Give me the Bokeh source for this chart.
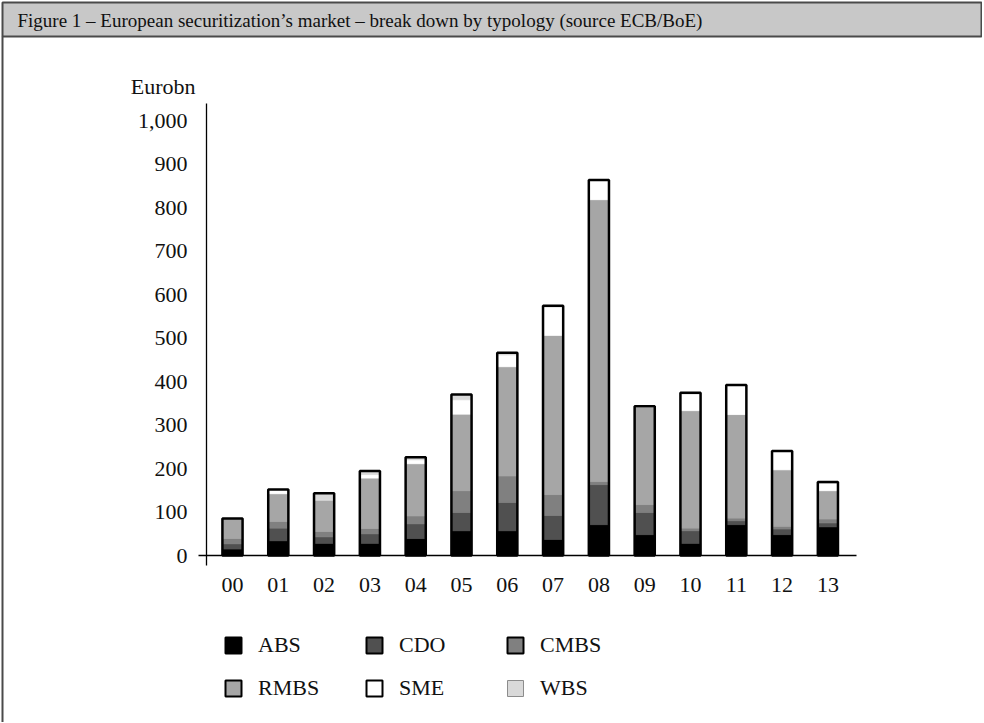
from bokeh.plotting import figure
from bokeh.models import (ColumnDataSource, Range1d, FixedTicker, NumeralTickFormatter,
                          LinearAxis, Label, Legend, LegendItem)
from bokeh.embed import file_html
from bokeh.resources import INLINE

# ---- data (Eurobn) ----
years = ["00", "01", "02", "03", "04", "05", "06", "07", "08", "09", "10", "11", "12", "13"]
abs_vals  = [15, 34, 28, 28, 39, 57, 57, 37, 71, 48, 28, 71, 48, 66]
cdo_vals  = [12, 29, 15, 22, 34, 42, 65, 55, 92, 51, 29, 9, 13, 9]
cmbs_vals = [12, 15, 12, 12, 18, 50, 61, 48, 7, 18, 6, 6, 6, 9]
rmbs_vals = [46, 64, 73, 116, 120, 176, 251, 366, 648, 224, 270, 238, 130, 65]
sme_vals  = [0, 10, 0, 8, 9, 33, 27, 65, 45, 2, 38, 68, 43, 17]
wbs_vals  = [0, 0, 15, 8, 6, 12, 5, 3, 0, 0, 3, 0, 0, 3]
series_names = ["ABS", "CDO", "CMBS", "RMBS", "SME", "WBS"]
y_ticks = [0, 100, 200, 300, 400, 500, 600, 700, 800, 900, 1000]
title_text = "Figure 1 \u2013 European securitization\u2019s market \u2013 break down by typology (source ECB/BoE)"
unit_text = "Eurobn"

# ---- styles ----
fills = ["#000000", "#505050", "#808080", "#a6a6a6", "#ffffff", "#d9d9d9"]
legend_lines = ["#000000", "#000000", "#000000", "#000000", "#000000", "#8c8c8c"]
legend_widths = [2, 2, 2, 2, 2, 1]
FONT = "Liberation Serif"
TXT = "#111111"
FRAME = "#4a4a4a"

cols = {"ABS": abs_vals, "CDO": cdo_vals, "CMBS": cmbs_vals,
        "RMBS": rmbs_vals, "SME": sme_vals, "WBS": wbs_vals}
xs = list(range(len(years)))
totals = [sum(v) for v in zip(*[cols[n] for n in series_names])]
source = ColumnDataSource(dict(x=xs, total=totals, **cols))

# ---- layout (canvas pixels) ----
W, H = 982, 722
X0_PX, X_SCALE = 232.0, 45.8      # canvas x of first category, px per category
Y0_PX, Y_SCALE = 555.0, 0.435     # canvas y of value 0, px per Eurobn

p = figure(width=W, height=H, output_backend="svg", toolbar_location=None,
           x_axis_location=None, y_axis_location=None, min_border=0,
           x_range=Range1d(-X0_PX / X_SCALE, (W - X0_PX) / X_SCALE),
           y_range=Range1d(-(H - Y0_PX) / Y_SCALE, Y0_PX / Y_SCALE))
p.extra_x_ranges = {"px": Range1d(0, W)}
p.extra_y_ranges = {"px": Range1d(H, 0)}
p.outline_line_color = None
p.xgrid.visible = False
p.ygrid.visible = False

# title bar and left frame line
p.quad(left=2, right=W - 1, top=2, bottom=36, x_range_name="px", y_range_name="px",
       fill_color="#c8c8c8", line_color=FRAME, line_width=2)
p.segment(x0=2, y0=36, x1=2, y1=H, x_range_name="px", y_range_name="px",
          line_color=FRAME, line_width=2)
p.add_layout(Label(x=17, y=20, x_range_name="px", y_range_name="px", text=title_text,
                   text_baseline="middle", text_font=FONT, text_font_size="19px",
                   text_color=TXT))
p.add_layout(Label(x=195, y=86, x_range_name="px", y_range_name="px", text=unit_text,
                   text_align="right", text_baseline="alphabetic", text_font=FONT,
                   text_font_size="22px", text_color=TXT))

# stacked bars
p.vbar_stack(series_names, x="x", width=0.44, source=source,
             fill_color=fills, line_color=fills, line_width=0.8)
p.vbar(x="x", top="total", bottom=0, width=0.44, source=source,
       fill_color=None, line_color="black", line_width=2.5)

# axes crossing at fixed locations
ya = LinearAxis(fixed_location=-0.568, bounds=(-23, 1039))
ya.ticker = FixedTicker(ticks=y_ticks)
ya.formatter = NumeralTickFormatter(format="0,0")
ya.axis_line_color = "black"
ya.axis_line_width = 1.3
ya.major_tick_line_color = None
ya.minor_tick_line_color = None
ya.major_tick_out = 0
ya.major_tick_in = 0
ya.major_label_standoff = 19
ya.major_label_text_font = FONT
ya.major_label_text_font_size = "22px"
ya.major_label_text_color = TXT
p.add_layout(ya, "left")

xa = LinearAxis(fixed_location=0, bounds=(-0.742, 13.62))
xa.ticker = FixedTicker(ticks=xs)
xa.major_label_overrides = {i: y for i, y in zip(xs, years)}
xa.axis_line_color = "black"
xa.axis_line_width = 1.3
xa.major_tick_line_color = None
xa.minor_tick_line_color = None
xa.major_tick_out = 0
xa.major_tick_in = 0
xa.major_label_standoff = 22
xa.major_label_text_font = FONT
xa.major_label_text_font_size = "22px"
xa.major_label_text_color = TXT
p.add_layout(xa, "below")

# legend (proxy renderers, with no drawable point, carry the swatch style)
nan = float("nan")
items = []
for name, fc, lc, lw in zip(series_names, fills, legend_lines, legend_widths):
    r = p.vbar(x=[nan], top=[nan], width=0.4, fill_color=fc, line_color=lc, line_width=lw)
    items.append(LegendItem(label=name, renderers=[r]))
legend = Legend(items=items, orientation="horizontal", ncols=3, location=(223, 21),
                margin=0, padding=0, spacing=17, glyph_width=20, glyph_height=20,
                label_standoff=15, label_width=89, label_text_font=FONT,
                label_text_font_size="22px", label_text_color=TXT,
                border_line_color=None, background_fill_alpha=0)
p.add_layout(legend, "center")

open("out.html", "w").write(file_html(p, INLINE))
